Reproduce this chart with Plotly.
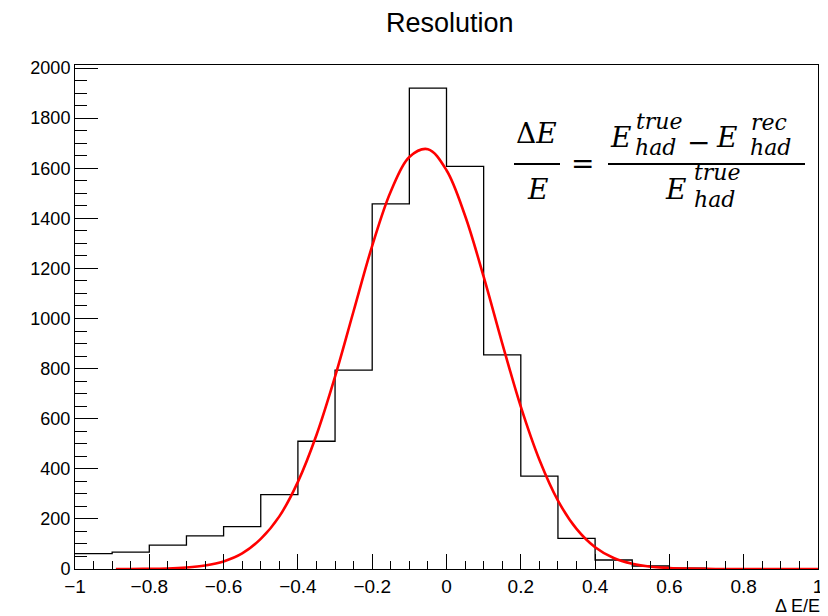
import plotly.graph_objects as go

# ---- data ----
bin_edges = [-1.0, -0.9, -0.8, -0.7, -0.6, -0.5, -0.4, -0.3, -0.2, -0.1, 0.0,
             0.1, 0.2, 0.3, 0.4, 0.5, 0.6, 0.7, 0.8, 0.9, 1.0]
counts = [61, 67, 95, 132, 169, 297, 510, 794, 1458, 1920,
          1607, 855, 371, 122, 36, 12, 3, 1, 0, 0]

fit_x = [-0.89, -0.85, -0.8, -0.75, -0.7, -0.65, -0.6, -0.55, -0.5, -0.45, -0.4,
         -0.35, -0.3, -0.25, -0.2, -0.15, -0.1, -0.05, 0.0, 0.05, 0.1, 0.15,
         0.2, 0.25, 0.3, 0.35, 0.4, 0.45, 0.5, 0.55, 0.6, 0.65, 0.7, 0.75,
         0.8, 0.85, 0.9, 0.95, 1.0]
fit_y = [0, 0, 1, 2, 6, 14, 30, 62, 120, 210, 348, 535, 768, 1030, 1290, 1507,
         1645, 1676, 1592, 1410, 1167, 901, 648, 436, 273, 160, 87, 44, 21, 9,
         4, 1.5, 0.5, 0, 0, 0, 0, 0, 0]

x_tick_vals = [-1, -0.8, -0.6, -0.4, -0.2, 0, 0.2, 0.4, 0.6, 0.8, 1]
x_tick_text = ["\u22121", "\u22120.8", "\u22120.6", "\u22120.4", "\u22120.2",
               "0", "0.2", "0.4", "0.6", "0.8", "1"]
y_tick_vals = [0, 200, 400, 600, 800, 1000, 1200, 1400, 1600, 1800, 2000]

title_text = "Resolution"
x_title = "\u0394 E/E"

# ---- layout geometry (pixels, in page coordinates) ----
OFF = 8                      # default page body margin of the html page
PAGE_W, PAGE_H = 828, 616
W, H = PAGE_W - OFF, PAGE_H - OFF
PL, PR, PT, PB = 75, 818, 65, 569   # plot frame in page pixels
L, T = PL - OFF, PT - OFF
R = W - (PR - OFF)
B = H - (PB - OFF)
PW, PH = PR - PL, PB - PT


def pp(px, py):
    """page pixel -> paper coordinates"""
    return (px - PL) / PW, (PB - py) / PH


# histogram as ROOT-style step outline
step_x = bin_edges[:]
step_y = counts + [counts[-1]]

fig = go.Figure()
fig.add_trace(go.Scatter(x=step_x, y=step_y, mode="lines", line_shape="hv",
                         line=dict(color="black", width=1.3),
                         hoverinfo="skip", showlegend=False))
fig.add_trace(go.Scatter(x=fit_x, y=fit_y, mode="lines", line_shape="spline",
                         line=dict(color="#ff0000", width=2.6),
                         hoverinfo="skip", showlegend=False))

fig.update_layout(
    width=W, height=H,
    margin=dict(l=L, r=R, t=T, b=B, autoexpand=False),
    paper_bgcolor="white", plot_bgcolor="white",
    font=dict(family="Liberation Sans, Arial, sans-serif", color="black"),
    showlegend=False,
)

fig.update_xaxes(range=[-1, 1], showgrid=False, zeroline=False, automargin=False,
                 showline=True, linecolor="black", linewidth=1, mirror=True,
                 ticks="inside", ticklen=15, tickcolor="black", tickwidth=1,
                 tickvals=x_tick_vals, ticktext=x_tick_text,
                 tickfont=dict(size=19),
                 minor=dict(dtick=0.05, tick0=0, ticks="inside", ticklen=8,
                            tickcolor="black", tickwidth=1, showgrid=False))
fig.update_yaxes(range=[0, 2012], showgrid=False, zeroline=False, automargin=False,
                 showline=True, linecolor="black", linewidth=1, mirror=True,
                 ticks="inside", ticklen=23, tickcolor="black", tickwidth=1,
                 tickvals=y_tick_vals, tickfont=dict(size=18),
                 minor=dict(dtick=50, tick0=0, ticks="inside", ticklen=12,
                            tickcolor="black", tickwidth=1, showgrid=False))

annotations = []
# title
tx, ty = pp(450, 23)
annotations.append(dict(text=title_text, x=tx, y=ty, xref="paper", yref="paper",
                        showarrow=False, xanchor="center", yanchor="middle",
                        font=dict(size=27)))
# x axis title
ax_, ay_ = pp(822, 606)
annotations.append(dict(text=x_title, x=ax_, y=ay_, xref="paper", yref="paper",
                        showarrow=False, xanchor="right", yanchor="middle",
                        font=dict(size=18)))

SERIF = "DejaVu Serif, Liberation Serif, serif"
BIG, SMALL = 28, 22
formula_parts = [
    ("\u0394<i>E</i>", 536, 134, BIG),
    ("<i>E</i>", 537, 189, BIG),
    ("=", 582, 163, BIG),
    ("<i>E</i>", 620, 137, BIG),
    ("<i>true</i>", 659, 121, SMALL),
    ("<i>had</i>", 655, 147, SMALL),
    ("\u2212", 698, 142, BIG),
    ("<i>E</i>", 726, 137, BIG),
    ("<i>rec</i>", 769, 122, SMALL),
    ("<i>had</i>", 770, 147, SMALL),
    ("<i>E</i>", 675, 189, BIG),
    ("<i>true</i>", 717, 172, SMALL),
    ("<i>had</i>", 714, 199, SMALL),
]
for txt, px, py, sz in formula_parts:
    fx, fy = pp(px, py)
    annotations.append(dict(text=txt, x=fx, y=fy, xref="paper", yref="paper",
                            showarrow=False, xanchor="center", yanchor="middle",
                            font=dict(family=SERIF, size=sz, color="black")))
fig.update_layout(annotations=annotations)

shapes = []
for x0, x1, yb in [(514, 560, 164), (608, 805, 164)]:
    a0, b0 = pp(x0, yb)
    a1, _ = pp(x1, yb)
    shapes.append(dict(type="line", xref="paper", yref="paper",
                       x0=a0, x1=a1, y0=b0, y1=b0,
                       line=dict(color="black", width=2.2)))
fig.update_layout(shapes=shapes)

fig.write_html("out.html")
